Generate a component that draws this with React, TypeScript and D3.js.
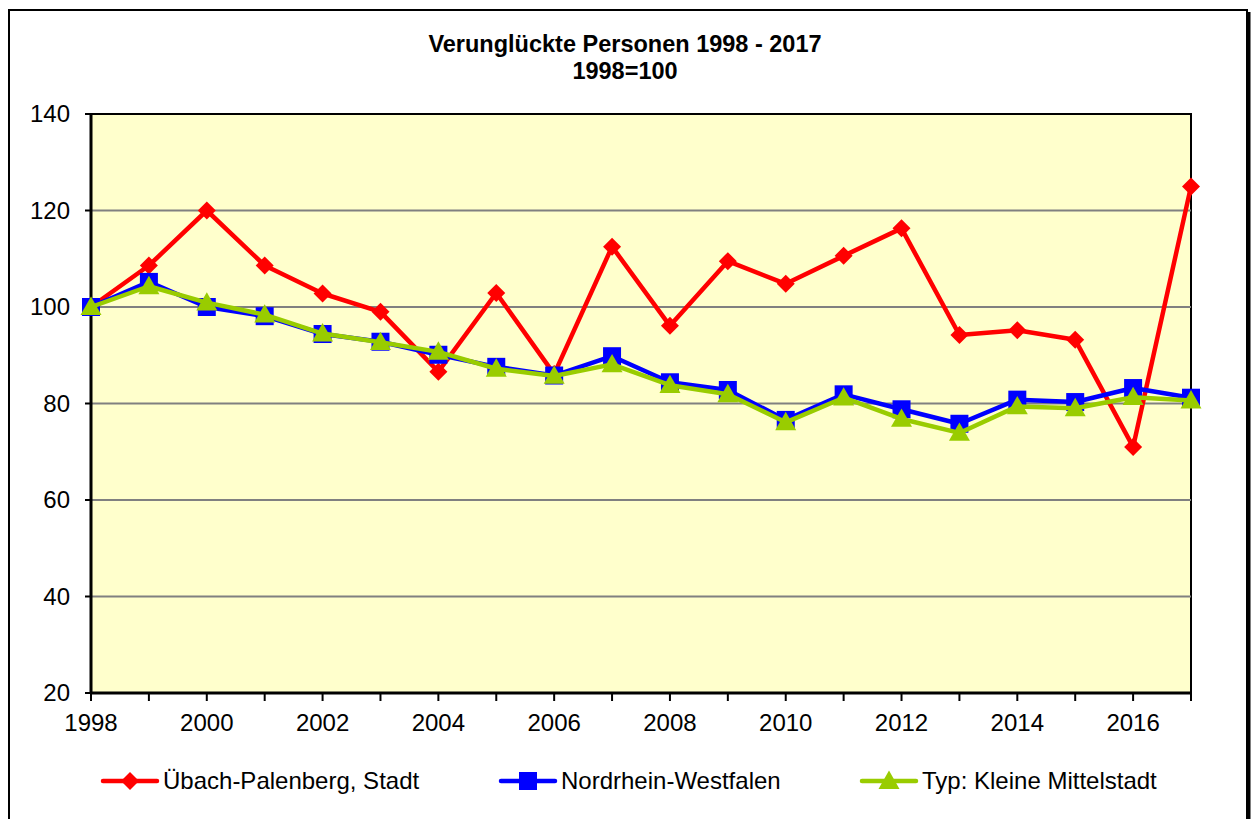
import * as d3 from 'd3';

const years = d3.range(1998, 2018);
const yTicks = [20, 40, 60, 80, 100, 120, 140];
const xLabelYears = [1998, 2000, 2002, 2004, 2006, 2008, 2010, 2012, 2014, 2016];

const ubach = [100, 108.6, 120, 108.6, 102.8, 99, 86.6, 102.9, 86.1, 112.5, 96.1, 109.5, 104.8, 110.6, 116.3, 94.2, 95.2, 93.2, 71, 125];
const nrw = [100, 105.2, 100, 98.1, 94.4, 92.8, 90.1, 87.6, 85.8, 89.8, 84.4, 82.8, 76.6, 81.9, 78.8, 75.8, 80.8, 80.3, 83.2, 81.2];
const typ = [100, 104.3, 100.9, 98.4, 94.5, 92.7, 90.7, 87.2, 85.7, 88.1, 83.8, 81.9, 76.1, 81.2, 76.8, 73.9, 79.4, 79.0, 81.3, 80.6];

const series = [
  { name: 'Übach-Palenberg, Stadt', values: ubach, color: '#FF0000', marker: 'diamond', lx: 103 },
  { name: 'Nordrhein-Westfalen', values: nrw, color: '#0000FF', marker: 'square', lx: 501 },
  { name: 'Typ: Kleine Mittelstadt', values: typ, color: '#99CC00', marker: 'triangle', lx: 862 },
];

const W = 1252;
const H = 819;
const left = 91, right = 1191, top = 114, bottom = 693;

function Marker({ type, x, y, color }: { type: string; x: number; y: number; color: string }) {
  if (type === 'diamond') {
    const r = 9;
    return <path d={`M${x},${y - r}L${x + r},${y}L${x},${y + r}L${x - r},${y}Z`} fill={color} />;
  }
  if (type === 'square') {
    const s = 18;
    return <rect x={x - s / 2} y={y - s / 2} width={s} height={s} fill={color} />;
  }
  const s = 10.5;
  return <path d={`M${x},${y - s}L${x + s},${y + s * 0.75}L${x - s},${y + s * 0.75}Z`} fill={color} />;
}

export default function App() {
  const x = d3.scaleLinear().domain([1998, 2017]).range([left, right]);
  const y = d3.scaleLinear().domain([20, 140]).range([bottom, top]);
  const line = d3
    .line<number>()
    .x((_, i) => x(years[i]))
    .y((d) => y(d));

  const font = 'Arial, "Liberation Sans", sans-serif';

  return (
    <svg width={W} height={H} style={{ position: 'absolute', left: 0, top: 0 }} fontFamily={font}>
      <rect x={0} y={0} width={W} height={H} fill="#fff" />
      {/* outer frame */}
      <rect x={9} y={10} width={1238} height={830} fill="none" stroke="#000" strokeWidth={2} />
      <line x1={1249} y1={12} x2={1249} y2={H} stroke="#000" strokeWidth={3} />

      {/* title */}
      <text x={625} y={52} textAnchor="middle" fontSize={23.5} fontWeight="bold">
        Verunglückte Personen 1998 - 2017
      </text>
      <text x={625} y={79} textAnchor="middle" fontSize={23.5} fontWeight="bold">
        1998=100
      </text>

      {/* plot area */}
      <rect x={left} y={top} width={right - left} height={bottom - top} fill="#FFFFCC" stroke="#000" strokeWidth={2} />
      {yTicks.slice(1, -1).map((t) => (
        <line key={t} x1={left} x2={right} y1={y(t)} y2={y(t)} stroke="#808080" strokeWidth={2} />
      ))}

      {/* y axis */}
      <line x1={left} x2={left} y1={top} y2={bottom} stroke="#000" strokeWidth={3} />
      {yTicks.map((t) => (
        <g key={t}>
          <line x1={left - 6} x2={left} y1={y(t)} y2={y(t)} stroke="#000" strokeWidth={2} />
          <text x={70} y={y(t)} dy="0.35em" textAnchor="end" fontSize={24}>
            {t}
          </text>
        </g>
      ))}

      {/* x axis */}
      <line x1={left} x2={right} y1={bottom} y2={bottom} stroke="#000" strokeWidth={3} />
      {years.map((yr) => (
        <line key={yr} x1={x(yr)} x2={x(yr)} y1={bottom} y2={bottom + 8} stroke="#000" strokeWidth={2} />
      ))}
      {xLabelYears.map((yr) => (
        <text key={yr} x={x(yr)} y={731} textAnchor="middle" fontSize={24}>
          {yr}
        </text>
      ))}

      {/* series */}
      {series.map((s) => (
        <g key={s.name}>
          <path d={line(s.values) as string} fill="none" stroke={s.color} strokeWidth={4.5} strokeLinejoin="round" />
          {s.values.map((v, i) => (
            <Marker key={i} type={s.marker} x={x(years[i])} y={y(v)} color={s.color} />
          ))}
        </g>
      ))}

      {/* legend */}
      {series.map((s) => (
        <g key={s.name}>
          <line x1={s.lx} x2={s.lx + 54} y1={781} y2={781} stroke={s.color} strokeWidth={4.5} strokeLinecap="round" />
          <Marker type={s.marker} x={s.lx + 27} y={781} color={s.color} />
          <text x={s.lx + 60} y={781} dy="0.35em" fontSize={24}>
            {s.name}
          </text>
        </g>
      ))}
    </svg>
  );
}
